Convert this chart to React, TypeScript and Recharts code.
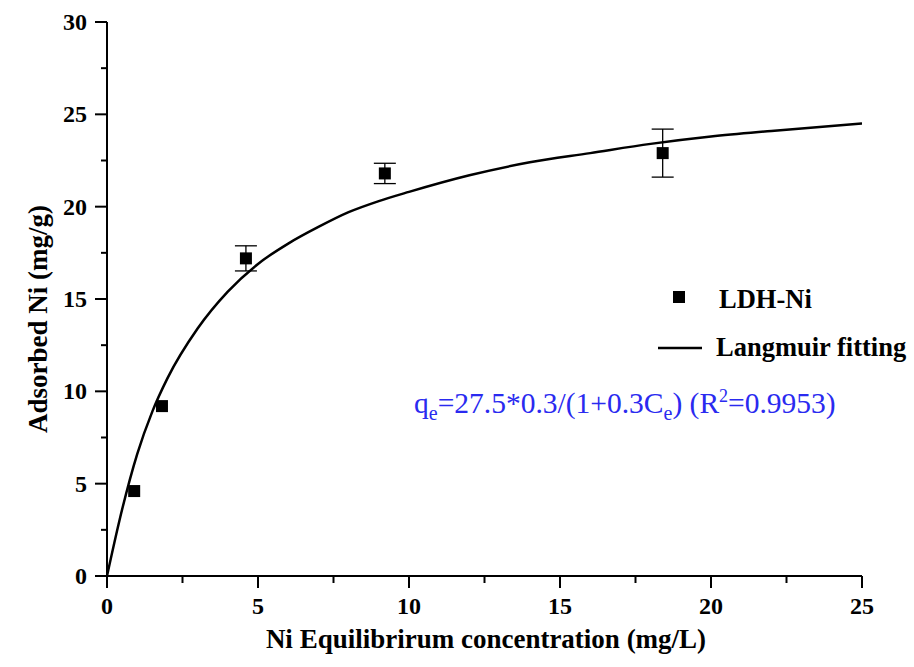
import React from 'react';
import { ComposedChart, Line, Scatter, XAxis, YAxis, ErrorBar } from 'recharts';

const xTicks = [0, 2.5, 5, 7.5, 10, 12.5, 15, 17.5, 20, 22.5, 25];
const yTicks = [0, 2.5, 5, 7.5, 10, 12.5, 15, 17.5, 20, 22.5, 25, 27.5, 30];

const pointsX = [0.9, 1.82, 4.6, 9.2, 18.4];
const pointsY = [4.6, 9.2, 17.2, 21.8, 22.9];
const pointsErr = [0, 0, 0.68, 0.55, 1.3];

const fitX = [0, 0.5, 1, 1.5, 2, 3, 4, 5, 6, 7, 8, 9, 10, 12, 14, 16, 18, 20, 22, 25];
const fitY = [0, 3.6, 6.6, 8.9, 10.7, 13.4, 15.4, 16.9, 18.0, 18.9, 19.7, 20.3, 20.8, 21.7, 22.4, 22.9, 23.4, 23.8, 24.1, 24.5];

const scatterData = pointsX.map((x, i) => ({ x, y: pointsY[i], err: pointsErr[i] }));
const fitData = fitX.map((x, i) => ({ x, y: fitY[i] }));

const FONT = '"Liberation Serif", "Times New Roman", serif';

const XTick = (props: any) => {
  const { x, y, payload } = props;
  const v = payload.value;
  const major = v % 5 === 0;
  return (
    <g>
      <line x1={x} y1={y} x2={x} y2={y + (major ? 12 : 7)} stroke="#000" strokeWidth={2} />
      {major && (
        <text x={x} y={y + 38} textAnchor="middle" fontFamily={FONT} fontWeight="bold" fontSize={24} fill="#000">
          {v}
        </text>
      )}
    </g>
  );
};

const YTick = (props: any) => {
  const { x, y, payload } = props;
  const v = payload.value;
  const major = v % 5 === 0;
  return (
    <g>
      <line x1={x} y1={y} x2={x - (major ? 12 : 6)} y2={y} stroke="#000" strokeWidth={2} />
      {major && (
        <text x={x - 20} y={y + 8} textAnchor="end" fontFamily={FONT} fontWeight="bold" fontSize={24} fill="#000">
          {v}
        </text>
      )}
    </g>
  );
};

const SquareShape = (props: any) => {
  const { cx, cy } = props;
  return <rect x={cx - 6} y={cy - 6} width={12} height={12} fill="#000" />;
};

export default function App() {
  return (
    <div style={{ position: 'relative', width: 914, height: 667, background: '#fff', overflow: 'hidden' }}>
      <style>{`body{margin:0;}`}</style>
      <ComposedChart width={914} height={667} margin={{ top: 22, right: 52, bottom: 0, left: 0 }}>
        <XAxis
          type="number"
          dataKey="x"
          domain={[0, 25]}
          ticks={xTicks}
          interval={0}
          height={91}
          axisLine={{ stroke: '#000', strokeWidth: 2 }}
          tickLine={false}
          tickSize={0}
          tickMargin={0}
          tick={<XTick />}
          allowDataOverflow
        />
        <YAxis
          type="number"
          dataKey="y"
          domain={[0, 30]}
          ticks={yTicks}
          interval={0}
          width={107}
          axisLine={{ stroke: '#000', strokeWidth: 2 }}
          tickLine={false}
          tickSize={0}
          tickMargin={0}
          tick={<YTick />}
          allowDataOverflow
        />
        <Line
          data={fitData}
          dataKey="y"
          type="monotone"
          stroke="#000"
          strokeWidth={2.5}
          dot={false}
          activeDot={false}
          isAnimationActive={false}
        />
        <Scatter data={scatterData} dataKey="y" shape={<SquareShape />} isAnimationActive={false}>
          <ErrorBar dataKey="err" direction="y" width={11} stroke="#000" strokeWidth={1.3} />
        </Scatter>
      </ComposedChart>
      <svg width={914} height={667} style={{ position: 'absolute', left: 0, top: 0, pointerEvents: 'none' }}>
        <text
          transform="translate(47,319) rotate(-90)"
          textAnchor="middle"
          fontFamily={FONT}
          fontWeight="bold"
          fontSize={27}
          fill="#000"
        >
          Adsorbed Ni (mg/g)
        </text>
        <text x={486} y={648} textAnchor="middle" fontFamily={FONT} fontWeight="bold" fontSize={27} fill="#000">
          Ni Equilibrirum concentration (mg/L)
        </text>
        <rect x={673} y={291} width={12} height={12} fill="#000" />
        <text x={719} y={308} fontFamily={FONT} fontWeight="bold" fontSize={26.5} fill="#000">
          LDH-Ni
        </text>
        <line x1={658} y1={348} x2={702} y2={348} stroke="#000" strokeWidth={2.5} />
        <text x={716} y={356} fontFamily={FONT} fontWeight="bold" fontSize={26.5} fill="#000">
          Langmuir fitting
        </text>
        <text x={414} y={413} fontFamily={FONT} fontSize={29.5} fill="#2a2af0">
          q<tspan dy={7} fontSize={20}>e</tspan>
          <tspan dy={-7}>=27.5*0.3/(1+0.3C</tspan>
          <tspan dy={7} fontSize={20}>e</tspan>
          <tspan dy={-7}>) (R</tspan>
          <tspan dy={-11} fontSize={18}>2</tspan>
          <tspan dy={11}>=0.9953)</tspan>
        </text>
      </svg>
    </div>
  );
}
